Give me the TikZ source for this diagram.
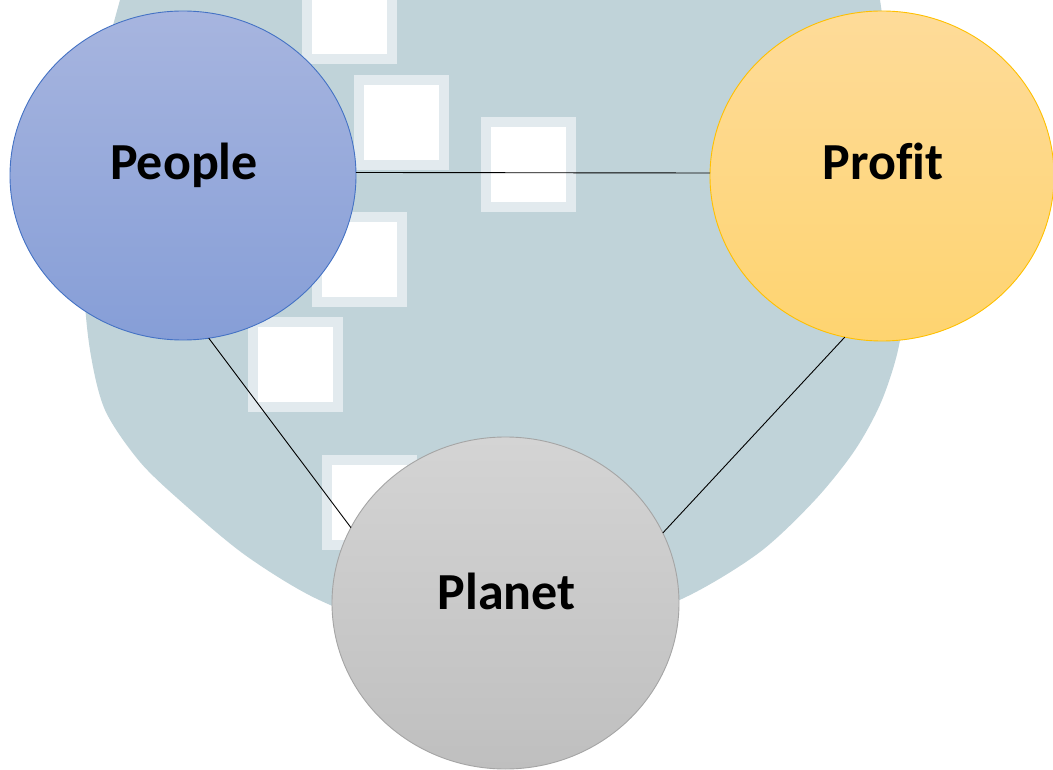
\documentclass[tikz,border=0pt]{standalone}
\usepackage{fontspec}
\newfontfamily\lblfont{Carlito}[Ligatures=NoCommon]
\usetikzlibrary{shapes.geometric,calc}

% background emblem
\definecolor{wm}{RGB}{192,211,217}
\definecolor{wmedge}{RGB}{226,234,238}
% circle colours
\definecolor{ppltop}{RGB}{167,181,223}
\definecolor{pplbot}{RGB}{134,158,215}
\definecolor{pplline}{RGB}{68,114,196}
\definecolor{prftop}{RGB}{254,219,153}
\definecolor{prfbot}{RGB}{254,212,112}
\definecolor{prfline}{RGB}{255,192,0}
\definecolor{plntop}{RGB}{212,212,212}
\definecolor{plnbot}{RGB}{191,191,191}
\definecolor{plnline}{RGB}{165,165,165}

\begin{document}
\begin{tikzpicture}[x=1pt,y=-1pt,
  blob/.style={ellipse, inner sep=0pt, outer sep=0pt, line width=0.9pt},
  tag/.style={font=\lblfont\bfseries\fontsize{52}{60}\selectfont, anchor=base, inner sep=0pt},
  link/.style={draw=black, line width=0.9pt},
]
\useasboundingbox (0,0) rectangle (1053,770);
\fill[white] (0,0) rectangle (1053,770);

\begin{scope}
  \clip (0,0) rectangle (1053,770);
  % emblem disc
  \fill[wm] plot[smooth cycle] coordinates {
    (500,-60) (130,-30) (120,0) (100,80) (88,180) (84,280) (90,350)
    (105,410) (140,462) (185,505) (245,555) (315,598) (400,630) (500,642)
    (600,630) (688,596) (760,552) (815,500) (855,450) (882,400) (900,340)
    (905,260) (898,160) (890,80) (880,0) (872,-30)};
  % white tiles of the emblem
  \foreach \tx/\ty in {302/-31, 354/75, 481/117, 312/212, 248/317, 322/455} {
    \fill[wmedge] (\tx,\ty) rectangle ++(95,95);
    \fill[white] (\tx+10,\ty+10) rectangle ++(75,75);
  }
\end{scope}

% the three circles
\node[blob, draw=pplline, top color=ppltop, bottom color=pplbot,
      minimum width=346pt, minimum height=329pt] (people) at (183,175.5) {};
\node[blob, draw=prfline, top color=prftop, bottom color=prfbot,
      minimum width=344pt, minimum height=330pt] (profit) at (882,176) {};
\node[blob, draw=plnline, top color=plntop, bottom color=plnbot,
      minimum width=347pt, minimum height=332pt] (planet) at (505.5,603) {};

% captions
\node[tag] (peoplelbl) at ($(people.center)+(1,4.5)$) {People};
\node[tag] (profitlbl) at ($(profit.center)+(1,4)$) {Profit};
\node[tag] (planetlbl) at ($(planet.center)+(1,6)$) {Planet};

% connectors
\draw[link] (people.1.5) -- (profit.179);
\draw[link] (people.-81.7) -- (planet.154.3);
\draw[link] (profit.-103.5) -- (planet.24.5);
\end{tikzpicture}
\end{document}
